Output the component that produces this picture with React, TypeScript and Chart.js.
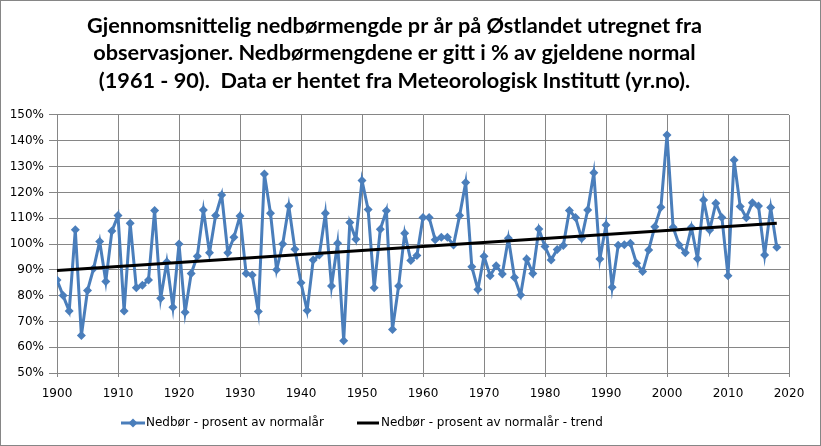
import React, { useEffect, useRef } from 'react';
import { Chart, registerables } from 'chart.js';

Chart.register(...registerables);

const titleLines = [
  'Gjennomsnittelig nedbørmengde pr år på Østlandet utregnet fra',
  'observasjoner. Nedbørmengdene er gitt i % av gjeldene normal',
  '(1961 - 90).  Data er hentet fra Meteorologisk Institutt (yr.no).',
];

const seriesLabel = 'Nedbør - prosent av normalår';
const trendLabel = 'Nedbør - prosent av normalår - trend';

const years = [
  1900, 1901, 1902, 1903, 1904, 1905, 1906, 1907, 1908, 1909,
  1910, 1911, 1912, 1913, 1914, 1915, 1916, 1917, 1918, 1919,
  1920, 1921, 1922, 1923, 1924, 1925, 1926, 1927, 1928, 1929,
  1930, 1931, 1932, 1933, 1934, 1935, 1936, 1937, 1938, 1939,
  1940, 1941, 1942, 1943, 1944, 1945, 1946, 1947, 1948, 1949,
  1950, 1951, 1952, 1953, 1954, 1955, 1956, 1957, 1958, 1959,
  1960, 1961, 1962, 1963, 1964, 1965, 1966, 1967, 1968, 1969,
  1970, 1971, 1972, 1973, 1974, 1975, 1976, 1977, 1978, 1979,
  1980, 1981, 1982, 1983, 1984, 1985, 1986, 1987, 1988, 1989,
  1990, 1991, 1992, 1993, 1994, 1995, 1996, 1997, 1998, 1999,
  2000, 2001, 2002, 2003, 2004, 2005, 2006, 2007, 2008, 2009,
  2010, 2011, 2012, 2013, 2014, 2015, 2016, 2017, 2018,
];

const precipPct = [
  86, 80, 74, 105.5, 64.5, 82, 90.5, 101, 85.5, 105,
  111, 74, 108, 83, 84, 86, 113, 79, 93, 75.5,
  100, 73.5, 88.6, 95.3, 113.2, 96.6, 111, 119, 96.6, 102.6,
  110.9, 88.6, 88, 73.8, 127.1, 111.9, 90, 100, 114.7, 98,
  85, 74.2, 93.8, 95.7, 111.9, 83.7, 100.3, 62.5, 108.3, 101.8,
  124.6, 113.4, 83, 105.7, 112.9, 66.9, 83.7, 104.2, 93.6, 95.5,
  110.3, 110.3, 101.6, 102.6, 102.6, 99.6, 111, 123.8, 91.2, 82.4,
  95.3, 87.7, 91.6, 88.4, 102.2, 87, 80.2, 94.2, 88.6, 105.8,
  99, 93.8, 97.9, 99.4, 113, 110.3, 102.2, 113.2, 127.6, 94.2,
  107.4, 83.2, 99.5, 99.7, 100.3, 92.5, 89.3, 97.7, 106.7, 114.2,
  142.2, 106.5, 99.6, 96.6, 106.5, 94.3, 117.1, 105.4, 115.8, 110.3,
  87.7, 132.6, 114.5, 110.2, 116, 114.7, 95.7, 114.1, 98.7,
];

const trendYears = [1900, 2018];
const trendPct = [89.7, 108.0];

const xMin = 1900;
const xMax = 2020;
const xStep = 10;
const yMin = 50;
const yMax = 150;
const yStep = 10;

const BLUE = '#4A7EBB';
const GRID = '#868686';
const FONT = 'DejaVu Sans';

function diamond(ctx: CanvasRenderingContext2D, x: number, y: number, r: number) {
  ctx.beginPath();
  ctx.moveTo(x, y - r);
  ctx.lineTo(x + r, y);
  ctx.lineTo(x, y + r);
  ctx.lineTo(x - r, y);
  ctx.closePath();
  ctx.fill();
}

const framePlugin = {
  id: 'frameAndLegend',
  beforeDraw(chart: any) {
    const ctx = chart.ctx;
    ctx.save();
    ctx.fillStyle = '#ffffff';
    ctx.fillRect(0, 0, chart.width, chart.height);
    ctx.restore();
  },
  afterDraw(chart: any) {
    const ctx = chart.ctx as CanvasRenderingContext2D;
    ctx.save();
    ctx.strokeStyle = GRID;
    ctx.lineWidth = 1;
    ctx.strokeRect(0.5, 0.5, chart.width - 1, chart.height - 1);

    const y = 423;
    ctx.font = `12px "${FONT}"`;
    ctx.textBaseline = 'middle';
    ctx.textAlign = 'left';

    ctx.strokeStyle = BLUE;
    ctx.lineWidth = 3;
    ctx.beginPath();
    ctx.moveTo(121, y);
    ctx.lineTo(145, y);
    ctx.stroke();
    ctx.fillStyle = BLUE;
    diamond(ctx, 133, y, 4.5);
    ctx.fillStyle = '#000';
    ctx.fillText(seriesLabel, 146, y);

    ctx.strokeStyle = '#000';
    ctx.lineWidth = 3;
    ctx.beginPath();
    ctx.moveTo(357, y);
    ctx.lineTo(379, y);
    ctx.stroke();
    ctx.fillText(trendLabel, 381, y);
    ctx.restore();
  },
};

export default function App() {
  const ref = useRef<HTMLCanvasElement | null>(null);

  useEffect(() => {
    if (!ref.current) return;
    const chart = new Chart(ref.current, {
      type: 'line',
      data: {
        datasets: [
          {
            label: seriesLabel,
            data: years.map((yr, i) => ({ x: yr, y: precipPct[i] })),
            borderColor: BLUE,
            backgroundColor: BLUE,
            borderWidth: 3,
            pointStyle: 'rectRot',
            pointRadius: 4.5,
            pointBorderWidth: 0,
            pointBackgroundColor: BLUE,
            tension: 0,
            order: 2,
          },
          {
            label: trendLabel,
            data: trendYears.map((yr, i) => ({ x: yr, y: trendPct[i] })),
            borderColor: '#000000',
            backgroundColor: '#000000',
            borderWidth: 3,
            pointRadius: 0,
            tension: 0,
            order: 1,
          },
        ],
      },
      options: {
        animation: false,
        responsive: false,
        maintainAspectRatio: false,
        devicePixelRatio: 1,
        layout: { padding: { left: 0, right: 32, top: 0, bottom: 43 } },
        plugins: {
          legend: { display: false },
          tooltip: { enabled: false },
          title: {
            display: true,
            text: titleLines,
            color: '#000',
            font: { family: 'Lato', weight: 'bold', size: 21.7, lineHeight: 27.5 / 21.7 },
            padding: { top: 12, bottom: 20.5 },
          },
        },
        scales: {
          x: {
            type: 'linear',
            min: xMin,
            max: xMax,
            afterFit: (s: any) => { s.height = 30; },
            ticks: {
              stepSize: xStep,
              color: '#000',
              font: { family: FONT, size: 12 },
              padding: 10,
              maxRotation: 0,
              callback: (v: any) => String(v),
            },
            grid: { color: GRID, lineWidth: 1, tickLength: 4, tickColor: GRID },
            border: { color: GRID, width: 1 },
          },
          y: {
            min: yMin,
            max: yMax,
            afterFit: (s: any) => { s.width = 57; },
            ticks: {
              stepSize: yStep,
              color: '#000',
              font: { family: FONT, size: 12 },
              padding: 5,
              callback: (v: any) => `${v}%`,
            },
            grid: { color: GRID, lineWidth: 1, tickLength: 8, tickColor: GRID },
            border: { color: GRID, width: 1 },
          },
        },
      },
      plugins: [framePlugin],
    });
    return () => chart.destroy();
  }, []);

  return (
    <div style={{ position: 'absolute', left: 0, top: 0, width: 821, height: 446 }}>
      <canvas ref={ref} width={821} height={446} style={{ width: 821, height: 446, display: 'block' }} />
    </div>
  );
}
